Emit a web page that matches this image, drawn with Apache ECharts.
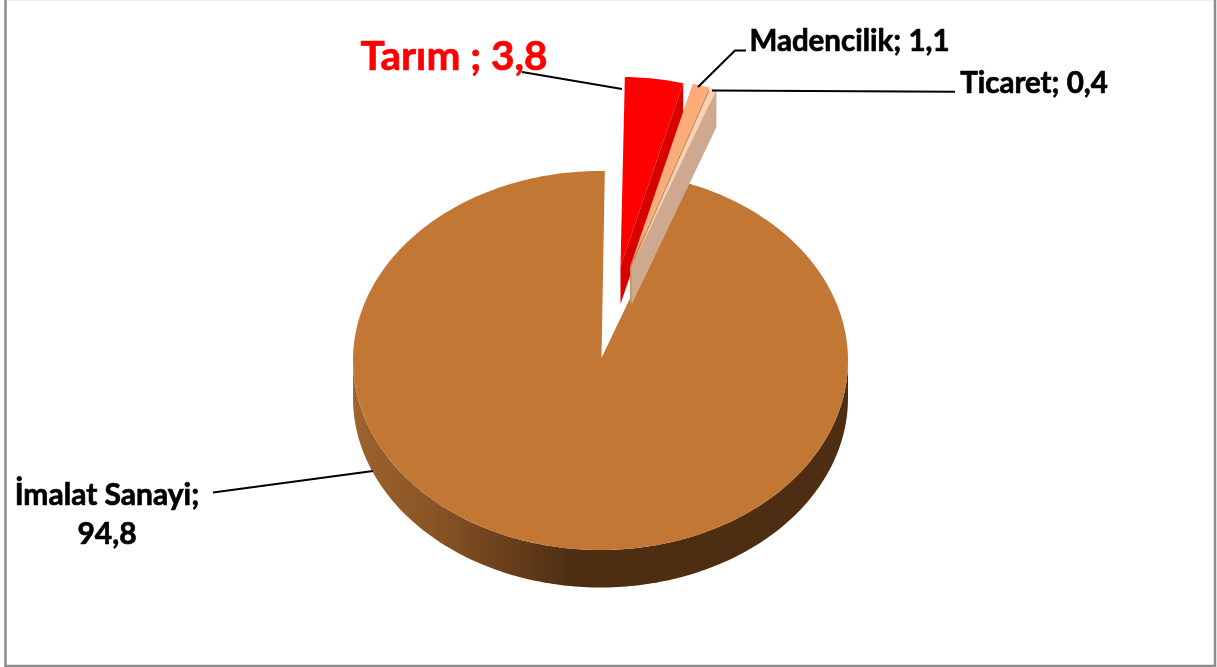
<!DOCTYPE html>
<html>
<head>
<meta charset="utf-8">
<script src="https://cdn.jsdelivr.net/npm/echarts@6/dist/echarts.min.js"></script>
<style>
  html, body { margin: 0; padding: 0; background: #fff; }
  #chart { width: 1217px; height: 667px; }
</style>
</head>
<body>
<div id="chart"></div>
<script>
const categories = ['İmalat Sanayi', 'Tarım ', 'Madencilik', 'Ticaret']
const values = [94.8, 3.8, 1.1, 0.4]

// look of each slice, same order as categories
const topColors = ['#c37735', '#ff0000', '#fbac78', '#fcd0b4']
const wallColors = ['#4d2e13', '#d90000', '#c4915f', '#cfa98f']
const labelColors = ['#000', '#ff0000', '#000', '#000']
const labelSizes = [30, 40.5, 29.5, 29.5]
const labelAnchors = [[107, 514.5], [454, 56.5], [849.5, 41], [1034, 83]]
const leaderLines = [
  [[213, 492.5], [373, 471]],
  [[522, 72], [622, 89]],
  [[698, 87], [735, 50.5], [746, 50.5]],
  [[712, 90.5], [955, 91.7]]
]
// how far the slice apex moved from the pie centre in pixels
const sliceShift = [[1, -2.5], [20, -94], [29.5, -93.5], [31, -93]]

const pie = { cx: 600.5, cy: 360.5, rx: 247.5, ry: 189.5, depth: 37.5, startAngle: 20.07 }

const total = values.reduce((a, b) => a + b, 0)
const sliceAngles = []
let acc = pie.startAngle
values.forEach((v) => {
  const sweep = v / total * 360
  sliceAngles.push([acc, acc + sweep])
  acc += sweep
})

const rimPoint = function(deg, ox, oy) {
  const r = deg * Math.PI / 180
  return [ox + pie.rx * Math.sin(r), oy - pie.ry * Math.cos(r)]
}

const arcPoints = function(from, to, ox, oy) {
  const pts = []
  const steps = Math.max(2, Math.ceil(Math.abs(to - from)))
  for (let i = 0; i <= steps; i++) {
    pts.push(rimPoint(from + (to - from) * i / steps, ox, oy))
  }
  return pts
}

const line = function(points) {
  return {
    type: 'polyline',
    shape: { points: points },
    style: { fill: null, stroke: '#000', lineWidth: 2 }
  }
}

const renderSlice = function(params) {
  const i = params.dataIndex
  const [from, to] = sliceAngles[i]
  const children = []

  if (i === 0) {
    // round front wall of the big slice
    const top = arcPoints(90, 270, pie.cx, pie.cy)
    const bottom = arcPoints(270, 90, pie.cx, pie.cy + pie.depth)
    children.push({
      type: 'polygon',
      shape: { points: top.concat(bottom) },
      style: {
        fill: new echarts.graphic.LinearGradient(0, 0, 1, 0, [
          { offset: 0, color: '#a0652f' },
          { offset: 0.03, color: '#99602c' },
          { offset: 0.155, color: '#8a5526' },
          { offset: 0.3, color: '#6c411c' },
          { offset: 0.44, color: wallColors[0] },
          { offset: 1, color: wallColors[0] }
        ])
      }
    })
    children.push({
      type: 'polygon',
      shape: { points: [[pie.cx + sliceShift[0][0], pie.cy + sliceShift[0][1]]].concat(arcPoints(from, to, pie.cx, pie.cy)) },
      style: { fill: topColors[0] }
    })
  } else {
    const ax = pie.cx + sliceShift[i][0]
    const ay = pie.cy + sliceShift[i][1]
    const end = rimPoint(to, ax, ay)
    children.push({
      type: 'polygon',
      shape: { points: [[ax, ay], end, [end[0], end[1] + pie.depth], [ax, ay + pie.depth]] },
      style: { fill: wallColors[i] }
    })
    children.push({
      type: 'polygon',
      shape: { points: [[ax, ay]].concat(arcPoints(from, to, ax, ay)) },
      style: { fill: topColors[i] }
    })
  }

  children.push(line(leaderLines[i]))

  const num = values[i].toFixed(1).replace('.', ',')
  children.push({
    type: 'text',
    style: {
      text: categories[i] + ';' + (i === 0 ? '\n' : ' ') + num,
      x: labelAnchors[i][0],
      y: labelAnchors[i][1],
      align: 'center',
      verticalAlign: 'middle',
      fill: labelColors[i],
      stroke: labelColors[i],
      lineWidth: 0.7,
      font: 'bold ' + labelSizes[i] + 'px Lato, "Open Sans", sans-serif',
      lineHeight: 39
    }
  })

  return { type: 'group', children: children }
}

const chart = echarts.init(document.getElementById('chart'), null, { renderer: 'canvas' })
chart.setOption({
  animation: false,
  backgroundColor: '#fff',
  graphic: [
    {
      type: 'line',
      shape: { x1: 6, y1: 0.5, x2: 1214, y2: 0.5 },
      style: { stroke: '#efefef', lineWidth: 1 },
      silent: true
    },
    {
      type: 'rect',
      shape: { x: 5.5, y: -3, width: 1209.5, height: 669 },
      style: { fill: null, stroke: '#8c8c8c', lineWidth: 2.5 },
      silent: true
    }
  ],
  series: [
    {
      type: 'custom',
      coordinateSystem: 'none',
      data: values,
      renderItem: renderSlice
    }
  ]
})
</script>
</body>
</html>
